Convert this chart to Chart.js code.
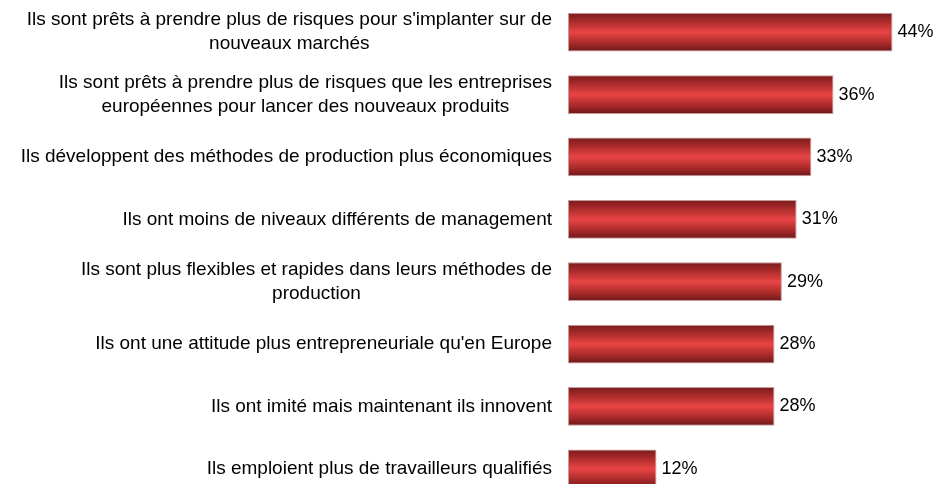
<!DOCTYPE html>
<html>
<head>
<meta charset="utf-8">
<script src="https://cdn.jsdelivr.net/npm/chart.js@4/dist/chart.umd.min.js"></script>
<style>
  html, body { margin: 0; padding: 0; background: #fff; overflow: hidden; }
  #wrap { width: 934px; height: 484px; overflow: hidden; }
</style>
</head>
<body>
<div id="wrap"><canvas id="bar-canvas" width="934" height="500"></canvas></div>
<script>
var reasons = [
    ["Ils sont prêts à prendre plus de risques pour s'implanter sur de", "nouveaux marchés"],
    ["Ils sont prêts à prendre plus de risques que les entreprises", "européennes pour lancer des nouveaux produits"],
    ["Ils développent des méthodes de production plus économiques"],
    ["Ils ont moins de niveaux différents de management"],
    ["Ils sont plus flexibles et rapides dans leurs méthodes de", "production"],
    ["Ils ont une attitude plus entrepreneuriale qu'en Europe"],
    ["Ils ont imité mais maintenant ils innovent"],
    ["Ils emploient plus de travailleurs qualifiés"]
];

var percentValues = [44, 36, 33, 31, 29, 28, 28, 12];

var labelFont = '19px "Liberation Sans", Arial, sans-serif';
var valueFont = '18px "Liberation Sans", Arial, sans-serif';
var barPct = 0.62;

document.addEventListener('DOMContentLoaded', function() {
    var ctx = document.getElementById('bar-canvas').getContext('2d');

    // vertical red gradient per bar, dark at the edges
    function barGradient(context) {
        var chart = context.chart;
        var y = chart.scales.y;
        if (!y || !chart.chartArea) return '#d83a3a';
        var c = y.getPixelForValue(context.dataIndex);
        var half = (y.height / reasons.length) * barPct / 2;
        var g = chart.ctx.createLinearGradient(0, c - half, 0, c + half);
        g.addColorStop(0, '#781b1b');
        g.addColorStop(0.2, '#a62929');
        g.addColorStop(0.5, '#e84444');
        g.addColorStop(0.8, '#a62929');
        g.addColorStop(1, '#6c1717');
        return g;
    }

    var labelPlugin = {
        id: 'labels',
        afterDraw: function(chart) {
            var c = chart.ctx;
            var area = chart.chartArea;
            var yScale = chart.scales.y;
            c.save();
            c.font = labelFont;
            c.fillStyle = '#000';
            c.textBaseline = 'middle';
            c.textAlign = 'center';
            var lineH = 24;
            reasons.forEach(function(lines, i) {
                var yc = yScale.getPixelForValue(i);
                var w = 0;
                lines.forEach(function(l) { w = Math.max(w, c.measureText(l).width); });
                var xc = area.left - 16 - w / 2;
                var y0 = yc - (lines.length - 1) * lineH / 2;
                lines.forEach(function(l, j) { c.fillText(l, xc, y0 + j * lineH); });
            });
            // value labels next to the bars
            var meta = chart.getDatasetMeta(0);
            c.font = valueFont;
            c.textAlign = 'left';
            meta.data.forEach(function(bar, i) {
                c.fillText(percentValues[i] + '%', bar.x + 5, bar.y);
            });
            c.restore();
        }
    };

    new Chart(ctx, {
        type: 'bar',
        data: {
            labels: reasons,
            datasets: [{
                data: percentValues,
                backgroundColor: barGradient,
                borderColor: '#c99a9a',
                borderWidth: 1,
                borderSkipped: false,
                categoryPercentage: 1,
                barPercentage: barPct
            }]
        },
        options: {
            indexAxis: 'y',
            responsive: false,
            animation: false,
            layout: {
                padding: { left: 568, right: 12, top: 1, bottom: 0 }
            },
            plugins: {
                legend: { display: false },
                tooltip: { enabled: false }
            },
            scales: {
                x: {
                    display: false,
                    min: 0,
                    max: 48
                },
                y: {
                    display: false
                }
            }
        },
        plugins: [labelPlugin]
    });
});
</script>
</body>
</html>
